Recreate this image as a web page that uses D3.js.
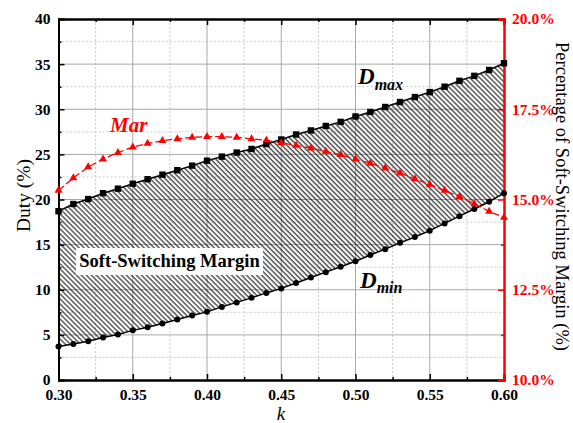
<!DOCTYPE html>
<html>
<head>
<meta charset="utf-8">
<script src="https://cdn.jsdelivr.net/npm/d3@7"></script>
<style>
  body { margin: 0; background: #fff; }
  svg { font-family: 'Liberation Serif', 'Times New Roman', serif; }
</style>
</head>
<body>
<div id="chart"></div>
<script>
// k values 0.30 .. 0.60
const kValues = [0.30, 0.31, 0.32, 0.33, 0.34, 0.35, 0.36, 0.37, 0.38, 0.39, 0.40,
  0.41, 0.42, 0.43, 0.44, 0.45, 0.46, 0.47, 0.48, 0.49, 0.50,
  0.51, 0.52, 0.53, 0.54, 0.55, 0.56, 0.57, 0.58, 0.59, 0.60]

const dMax = [18.7, 19.5, 20.05, 20.7, 21.2, 21.75, 22.25, 22.75, 23.25, 23.75, 24.3,
  24.75, 25.2, 25.6, 26.15, 26.65, 27.2, 27.65, 28.15, 28.6, 29.2,
  29.7, 30.25, 30.8, 31.35, 31.9, 32.5, 33.15, 33.7, 34.35, 35.1]

const dMin = [3.7, 4.0, 4.3, 4.7, 5.05, 5.5, 5.85, 6.25, 6.7, 7.15, 7.55,
  8.1, 8.6, 9.1, 9.65, 10.15, 10.75, 11.35, 11.95, 12.55, 13.15,
  13.85, 14.5, 15.2, 15.85, 16.55, 17.35, 18.15, 18.95, 19.75, 20.7]

const margin = [15.25, 15.6, 15.9, 16.12, 16.3, 16.45, 16.55, 16.63, 16.68, 16.72, 16.74,
  16.74, 16.72, 16.68, 16.64, 16.57, 16.5, 16.42, 16.33, 16.24, 16.12,
  16.0, 15.87, 15.73, 15.57, 15.42, 15.25, 15.08, 14.88, 14.67, 14.5]

const xTicks = [0.30, 0.35, 0.40, 0.45, 0.50, 0.55, 0.60]
const xMinor = [0.325, 0.375, 0.425, 0.475, 0.525, 0.575]
const yTicks = [0, 5, 10, 15, 20, 25, 30, 35, 40]
const yMinor = [2.5, 7.5, 12.5, 17.5, 22.5, 27.5, 32.5, 37.5]
const rTicks = [10, 12.5, 15, 17.5, 20]
const rMinor = [11.25, 13.75, 16.25, 18.75]

const W = 573, H = 423
const L = 58.5, R = 504, T = 19, B = 380
const RED = '#ff0000'

const svg = d3.select('#chart').append('svg').attr('width', W).attr('height', H)

const x = d3.scaleLinear().domain([0.3, 0.6]).range([L, R])
const y = d3.scaleLinear().domain([0, 40]).range([B, T])
const yR = d3.scaleLinear().domain([10, 20]).range([B, T])

// hatch pattern
const defs = svg.append('defs')
defs.append('pattern')
  .attr('id', 'hatch')
  .attr('patternUnits', 'userSpaceOnUse')
  .attr('width', 3.54).attr('height', 10)
  .attr('patternTransform', 'rotate(-45)')
  .append('line')
  .attr('x1', 1).attr('y1', -1).attr('x2', 1).attr('y2', 11)
  .attr('stroke', '#000').attr('stroke-width', 1)

// grid
const grid = svg.append('g')
grid.selectAll('.vminor').data(xMinor).join('line')
  .attr('x1', d => x(d)).attr('x2', d => x(d)).attr('y1', T).attr('y2', B)
  .attr('stroke', '#c8c8c8').attr('stroke-dasharray', '2,2')
grid.selectAll('.hminor').data(yMinor).join('line')
  .attr('y1', d => y(d)).attr('y2', d => y(d)).attr('x1', L).attr('x2', R)
  .attr('stroke', '#c8c8c8').attr('stroke-dasharray', '2,2')
grid.selectAll('.vmajor').data(xTicks.slice(1, -1)).join('line')
  .attr('x1', d => x(d)).attr('x2', d => x(d)).attr('y1', T).attr('y2', B)
  .attr('stroke', '#a8a8a8')
grid.selectAll('.hmajor').data(yTicks.slice(1, -1)).join('line')
  .attr('y1', d => y(d)).attr('y2', d => y(d)).attr('x1', L).attr('x2', R)
  .attr('stroke', '#a8a8a8')

const rows = kValues.map((k, i) => ({ k, hi: dMax[i], lo: dMin[i], m: margin[i] }))

// hatched region between Dmin and Dmax
svg.append('path')
  .datum(rows)
  .attr('d', d3.area().x(d => x(d.k)).y0(d => y(d.lo)).y1(d => y(d.hi)))
  .attr('fill', 'url(#hatch)')

// label box
svg.append('rect').attr('x', 76).attr('y', 248).attr('width', 187).attr('height', 27).attr('fill', '#fff')
svg.append('text').attr('x', 169.5).attr('y', 267).attr('text-anchor', 'middle')
  .attr('font-size', '18.5px').attr('font-weight', 'bold').text('Soft-Switching Margin')

// axes
const axisG = svg.append('g')
axisG.append('g').attr('transform', `translate(0,${B})`)
  .call(d3.axisBottom(x).tickValues(xTicks).tickSize(-6).tickPadding(9).tickFormat(d3.format('.2f')))
axisG.append('g').attr('transform', `translate(0,${T})`)
  .call(d3.axisTop(x).tickValues(xTicks).tickSize(-6).tickFormat(''))
axisG.append('g').attr('transform', `translate(${L},0)`)
  .call(d3.axisLeft(y).tickValues(yTicks).tickSize(-6).tickPadding(8))
axisG.append('g').attr('transform', `translate(0,${B})`)
  .call(d3.axisBottom(x).tickValues(xMinor).tickSize(-3).tickFormat(''))
axisG.append('g').attr('transform', `translate(0,${T})`)
  .call(d3.axisTop(x).tickValues(xMinor).tickSize(-3).tickFormat(''))
axisG.append('g').attr('transform', `translate(${L},0)`)
  .call(d3.axisLeft(y).tickValues(yMinor).tickSize(-3).tickFormat(''))
axisG.selectAll('.domain').attr('stroke', '#000').attr('stroke-width', 2)
axisG.selectAll('.tick line').attr('stroke', '#000').attr('stroke-width', 1.5)
axisG.selectAll('.tick text').attr('font-family', "'Liberation Serif', serif")
  .attr('font-size', '15.5px').attr('font-weight', 'bold').attr('fill', '#000')

const rightAxis = svg.append('g').attr('transform', `translate(${R},0)`)
rightAxis.call(d3.axisRight(yR).tickValues(rTicks).tickSize(-6).tickPadding(8)
  .tickFormat(d => d3.format('.1f')(d) + '%'))
rightAxis.append('g').call(d3.axisRight(yR).tickValues(rMinor).tickSize(-3).tickFormat(''))
rightAxis.selectAll('.domain').attr('stroke', RED).attr('stroke-width', 2)
rightAxis.selectAll('.tick line').attr('stroke', RED).attr('stroke-width', 1.5)
rightAxis.selectAll('.tick text').attr('font-family', "'Liberation Serif', serif")
  .attr('font-size', '15.5px').attr('font-weight', 'bold').attr('fill', RED)

// lines
const line = key => d3.line().x(d => x(d.k)).y(d => y(d[key]))
svg.append('path').datum(rows).attr('d', line('hi'))
  .attr('fill', 'none').attr('stroke', '#000').attr('stroke-width', 1.5)
svg.append('path').datum(rows).attr('d', line('lo'))
  .attr('fill', 'none').attr('stroke', '#000').attr('stroke-width', 1.5)
svg.append('path').datum(rows)
  .attr('d', d3.line().x(d => x(d.k)).y(d => yR(d.m)))
  .attr('fill', 'none').attr('stroke', RED).attr('stroke-width', 1.3).attr('stroke-dasharray', '7,3')

// markers
svg.selectAll('.sq').data(rows).join('rect')
  .attr('x', d => x(d.k) - 3.2).attr('y', d => y(d.hi) - 3.2)
  .attr('width', 6.4).attr('height', 6.4).attr('fill', '#000')
svg.selectAll('.ci').data(rows).join('circle')
  .attr('cx', d => x(d.k)).attr('cy', d => y(d.lo)).attr('r', 3).attr('fill', '#000')
svg.selectAll('.tri').data(rows).join('path')
  .attr('transform', d => `translate(${x(d.k)},${yR(d.m)})`)
  .attr('d', d3.symbol(d3.symbolTriangle, 28)).attr('fill', RED)

// annotations
svg.append('text').attr('x', 110).attr('y', 132).attr('fill', RED)
  .attr('font-size', '21px').attr('font-weight', 'bold').attr('font-style', 'italic').text('Mar')
const dmaxT = svg.append('text').attr('x', 358).attr('y', 84)
  .attr('font-weight', 'bold').attr('font-style', 'italic')
dmaxT.append('tspan').attr('font-size', '23px').text('D')
dmaxT.append('tspan').attr('font-size', '16px').attr('dy', 6).text('max')
const dminT = svg.append('text').attr('x', 360).attr('y', 288)
  .attr('font-weight', 'bold').attr('font-style', 'italic')
dminT.append('tspan').attr('font-size', '23px').text('D')
dminT.append('tspan').attr('font-size', '16px').attr('dy', 5).text('min')

// axis titles
svg.append('text').attr('transform', 'translate(29.5,195.5) rotate(-90)')
  .attr('text-anchor', 'middle').attr('font-size', '19.5px').text('Duty (%)')
svg.append('text').attr('x', 281).attr('y', 420).attr('text-anchor', 'middle')
  .attr('font-size', '19px').attr('font-style', 'italic').text('k')
svg.append('text').attr('transform', 'translate(555.5,196.5) rotate(90)')
  .attr('text-anchor', 'middle').attr('font-size', '18.5px').text('Percentage of Soft-Switching Margin (%)')
</script>
</body>
</html>
